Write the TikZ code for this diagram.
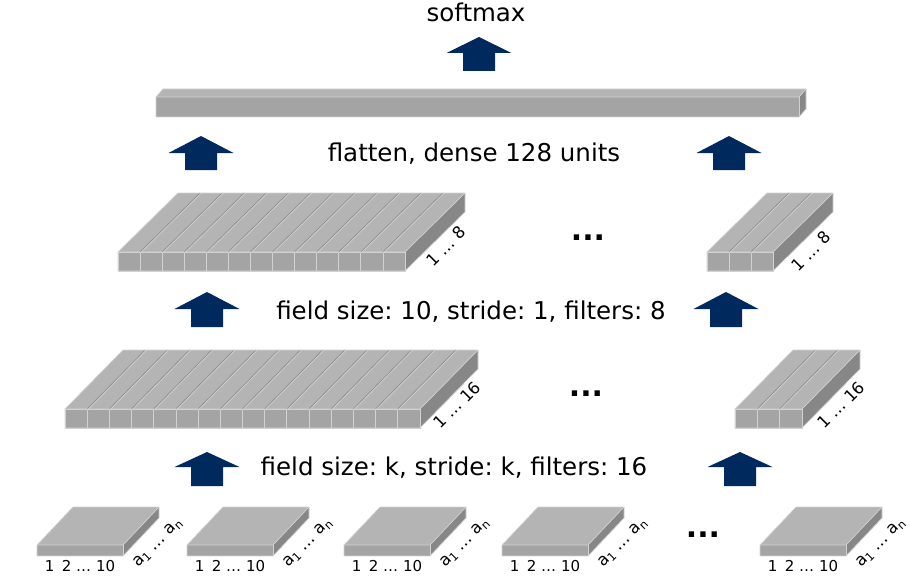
\documentclass[tikz,border=0pt]{standalone}
\usepackage{fontspec}
\setmainfont{DejaVu Sans}
\frenchspacing
\definecolor{topc}{HTML}{B4B4B4}
\definecolor{frontc}{HTML}{A4A4A4}
\definecolor{sidec}{HTML}{878787}
\definecolor{edgec}{HTML}{D2D2D2}
\definecolor{sepdark}{HTML}{8E8E8E}
\definecolor{seplight}{HTML}{CDCDCD}
\definecolor{navy}{HTML}{002A5E}
\tikzset{
  topf/.style={fill=topc},
  sidef/.style={fill=sidec},
  frontf/.style={fill=frontc},
  colsep/.style={draw=edgec,line width=0.8pt},
  topsepd/.style={draw=sepdark,line width=0.8pt},
  topsepl/.style={draw=seplight,line width=0.8pt},
  slabedge/.style={draw=edgec,line width=0.7pt,line join=round},
  bigtxt/.style={font=\fontsize{24.5}{28}\selectfont,inner sep=0pt,anchor=base},
  smalltxt/.style={font=\fontsize{15}{18}\selectfont,inner sep=0pt},
  rottxt/.style={font=\fontsize{16.5}{18}\selectfont,inner sep=0pt,rotate=45},
  dotstxt/.style={font=\fontsize{30}{32}\selectfont\bfseries,inner sep=0pt},
  arrowfill/.style={fill=navy}
}
% #1 name, #2 x, #3 y front top, #4 width, #5 height, #6 depth dx, #7 depth dy (up), #8 columns
\newcommand{\slab}[8]{%
  \coordinate (#1) at (#2,#3);
  \fill[topf] (#2,#3) -- ++(#6,-#7) -- ++(#4,0) -- ++(-#6,#7) -- cycle;
  \fill[sidef] (#2+#4,#3) -- ++(#6,-#7) -- ++(0,#5) -- ++(-#6,#7) -- cycle;
  \fill[frontf] (#2,#3) rectangle ++(#4,#5);
  \ifnum#8>1
    \foreach \i in {1,...,#8} {
      \pgfmathsetmacro\xa{#2+(\i-1)*#4/#8}
      \pgfmathsetmacro\xb{#2+\i*#4/#8}
      \draw[colsep] (\xa,#3) rectangle (\xb,#3+#5);
    }
    \pgfmathtruncatemacro\nlast{#8-1}
    \foreach \i in {1,...,\nlast} {
      \pgfmathsetmacro\xb{#2+\i*#4/#8}
      \draw[topsepd] (\xb,#3) -- ++(#6,-#7);
      \draw[topsepl] (\xb+1.3,#3) -- ++(#6,-#7);
    }
  \fi
  \draw[slabedge] (#2,#3+#5) -- (#2,#3) -- ++(#6,-#7) -- ++(#4,0) -- ++(0,#5) -- ++(-#6,#7) -- cycle;
  \draw[slabedge] (#2,#3) -- ++(#4,0) -- ++(#6,-#7);
  \draw[slabedge] (#2+#4,#3) -- ++(0,#5);
}
% block arrow: #1 centre x, #2 tip y, #3 head base y, #4 bottom y
\newcommand{\blockarrow}[4]{%
  \fill[arrowfill] (#1,#2) -- (#1+32.5,#3) -- (#1+16,#3) -- (#1+16,#4)
     -- (#1-16,#4) -- (#1-16,#3) -- (#1-32.5,#3) -- cycle;
}
\begin{document}
\begin{tikzpicture}[x=1pt,y=-1pt]
\useasboundingbox (0,0) rectangle (924,586);

% ---------- inputs ----------
\foreach \xx [count=\k] in {37,187,344,502,760} {
  \slab{in\k}{\xx}{545}{86}{11}{36}{38}{1}
  \node[smalltxt,anchor=base] (lblx\k) at (\xx+43,571) {1\,\,\,2 … 10};
  \node[rottxt] (lbla\k) at (\xx+121,543) {a\textsubscript{1} … a\textsubscript{n}};
}
\node[dotstxt] (dots0) at (703,535) {...};

% ---------- row 1 arrows ----------
\blockarrow{207}{452}{467}{486}
\blockarrow{740}{452}{467}{486}
\node[bigtxt] (lab1) at (454,475) {field size: k, stride: k, filters: 16};

% ---------- layer 1 ----------
\slab{c1a}{65}{409}{355}{19}{58}{59}{16}
\slab{c1b}{735}{409}{67}{19}{58}{59}{3}
\node[rottxt] (f1a) at (457,405) {1 … 16};
\node[rottxt] (f1b) at (841,405) {1 … 16};
\node[dotstxt] (dots1) at (586,394) {...};

% ---------- row 2 arrows ----------
\blockarrow{207}{292}{309}{327}
\blockarrow{726}{292}{309}{327}
\node[bigtxt] (lab2) at (471,319) {field size: 10, stride: 1, filters: 8};

% ---------- layer 2 ----------
\slab{c2a}{118}{252}{287}{19}{60}{59}{13}
\slab{c2b}{707}{252}{66}{19}{60}{59}{3}
\node[rottxt] (f2a) at (446,246) {1 … 8};
\node[rottxt] (f2b) at (811,251) {1 … 8};
\node[dotstxt] (dots2) at (588,238) {...};

% ---------- row 3 arrows ----------
\blockarrow{201}{136}{153}{170}
\blockarrow{729}{136}{153}{170}
\node[bigtxt] (lab3) at (474,161) {flatten, dense 128 units};

% ---------- dense bar ----------
\slab{dense}{156}{97}{643}{20}{7}{8}{1}

% ---------- softmax ----------
\blockarrow{479}{37}{53}{71}
\node[bigtxt] (soft) at (476,22) {softmax};
\end{tikzpicture}
\end{document}
